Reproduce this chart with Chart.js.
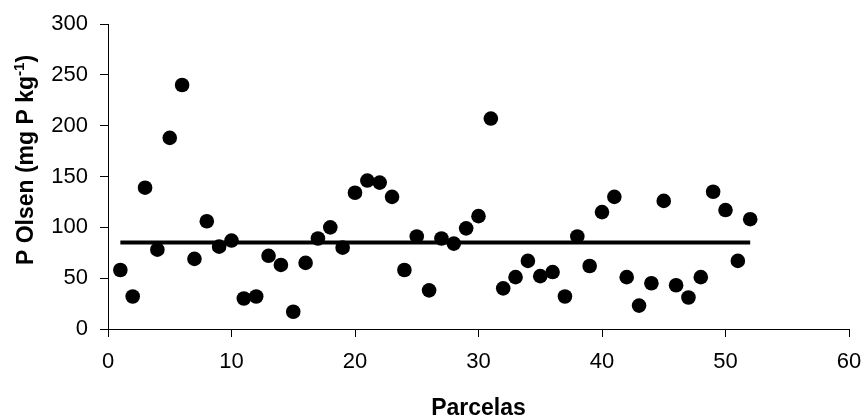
<!DOCTYPE html>
<html>
<head>
<meta charset="utf-8">
<script src="https://cdn.jsdelivr.net/npm/chart.js@4.4.0/dist/chart.umd.min.js"></script>
<style>
  html, body { margin: 0; padding: 0; background: #fff; }
  #wrap { width: 864px; height: 417px; }
</style>
</head>
<body>
<div id="wrap"><canvas id="chart" width="864" height="417"></canvas></div>
<script>
// ---- data ----
const parcelas = [1, 2, 3, 4, 5, 6, 7, 8, 9, 10, 11, 12, 13, 14, 15, 16, 17, 18, 19, 20,
  21, 22, 23, 24, 25, 26, 27, 28, 29, 30, 31, 32, 33, 34, 35, 36, 37, 38, 39, 40,
  41, 42, 43, 44, 45, 46, 47, 48, 49, 50, 51, 52];
const pOlsen = [58, 32, 139, 78, 188, 240, 69, 106, 81, 87, 30, 32, 72, 63, 17, 65, 89, 100, 80, 134,
  146, 144, 130, 58, 91, 38, 89, 84, 99, 111, 207, 40, 51, 67, 52, 56, 32, 91, 62, 115,
  130, 51, 23, 45, 126, 43, 31, 51, 135, 117, 67, 108];
const lineX = [1, 52];
const lineY = [85, 85];

const xTicks = [0, 10, 20, 30, 40, 50, 60];
const yTicks = [0, 50, 100, 150, 200, 250, 300];

const FONT = "'Liberation Sans', Arial, sans-serif";

// y title with a superscript, drawn rotated
const YTitlePlugin = {
  id: 'yTitle',
  afterDraw(chart) {
    const { ctx } = chart;
    const main = 'P Olsen (mg P kg';
    const sup = '-1';
    const end = ')';
    ctx.save();
    ctx.fillStyle = '#000';
    ctx.textBaseline = 'alphabetic';
    ctx.translate(33, 160);
    ctx.rotate(-Math.PI / 2);
    ctx.font = `bold 23px ${FONT}`;
    const w1 = ctx.measureText(main).width;
    const w3 = ctx.measureText(end).width;
    ctx.font = `bold 15px ${FONT}`;
    const w2 = ctx.measureText(sup).width;
    let x = -(w1 + w2 + w3) / 2;
    ctx.font = `bold 23px ${FONT}`;
    ctx.fillText(main, x, 0);
    x += w1;
    ctx.font = `bold 15px ${FONT}`;
    ctx.fillText(sup, x, -9);
    x += w2;
    ctx.font = `bold 23px ${FONT}`;
    ctx.fillText(end, x, 0);
    ctx.restore();
  }
};

new Chart(document.getElementById('chart'), {
  type: 'scatter',
  plugins: [YTitlePlugin],
  data: {
    datasets: [
      {
        label: 'P Olsen',
        data: parcelas.map((x, i) => ({ x, y: pOlsen[i] })),
        backgroundColor: '#000',
        borderColor: '#000',
        borderWidth: 0,
        pointRadius: 7.3,
        order: 0
      },
      {
        type: 'line',
        label: 'media',
        data: lineX.map((x, i) => ({ x, y: lineY[i] })),
        borderColor: '#000',
        borderWidth: 4,
        pointRadius: 0,
        fill: false,
        order: 1
      }
    ]
  },
  options: {
    responsive: false,
    animation: false,
    layout: { padding: { left: 0, right: 15, top: 24, bottom: 0 } },
    plugins: {
      legend: { display: false },
      tooltip: { enabled: false }
    },
    scales: {
      x: {
        type: 'linear',
        min: 0,
        max: 60,
        afterBuildTicks: s => { s.ticks = xTicks.map(v => ({ value: v })); },
        afterFit: s => { s.height = 88; s.paddingLeft = 0; s.paddingRight = 0; },
        grid: { drawOnChartArea: false, drawTicks: true, tickLength: 8, color: '#000' },
        border: { display: true, color: '#000', width: 1 },
        ticks: { color: '#000', padding: 12, font: { family: FONT, size: 22 }, maxRotation: 0 },
        title: {
          display: true,
          text: 'Parcelas',
          color: '#000',
          font: { family: FONT, size: 23, weight: 'bold' },
          padding: { top: 0, bottom: -5 }
        }
      },
      y: {
        type: 'linear',
        min: 0,
        max: 300,
        afterBuildTicks: s => { s.ticks = yTicks.map(v => ({ value: v })); },
        afterFit: s => { s.width = 108; s.paddingTop = 0; s.paddingBottom = 0; },
        grid: { drawOnChartArea: false, drawTicks: true, tickLength: 8, color: '#000' },
        border: { display: true, color: '#000', width: 1 },
        ticks: { color: '#000', padding: 12, font: { family: FONT, size: 22 } }
      }
    }
  }
});
</script>
</body>
</html>
